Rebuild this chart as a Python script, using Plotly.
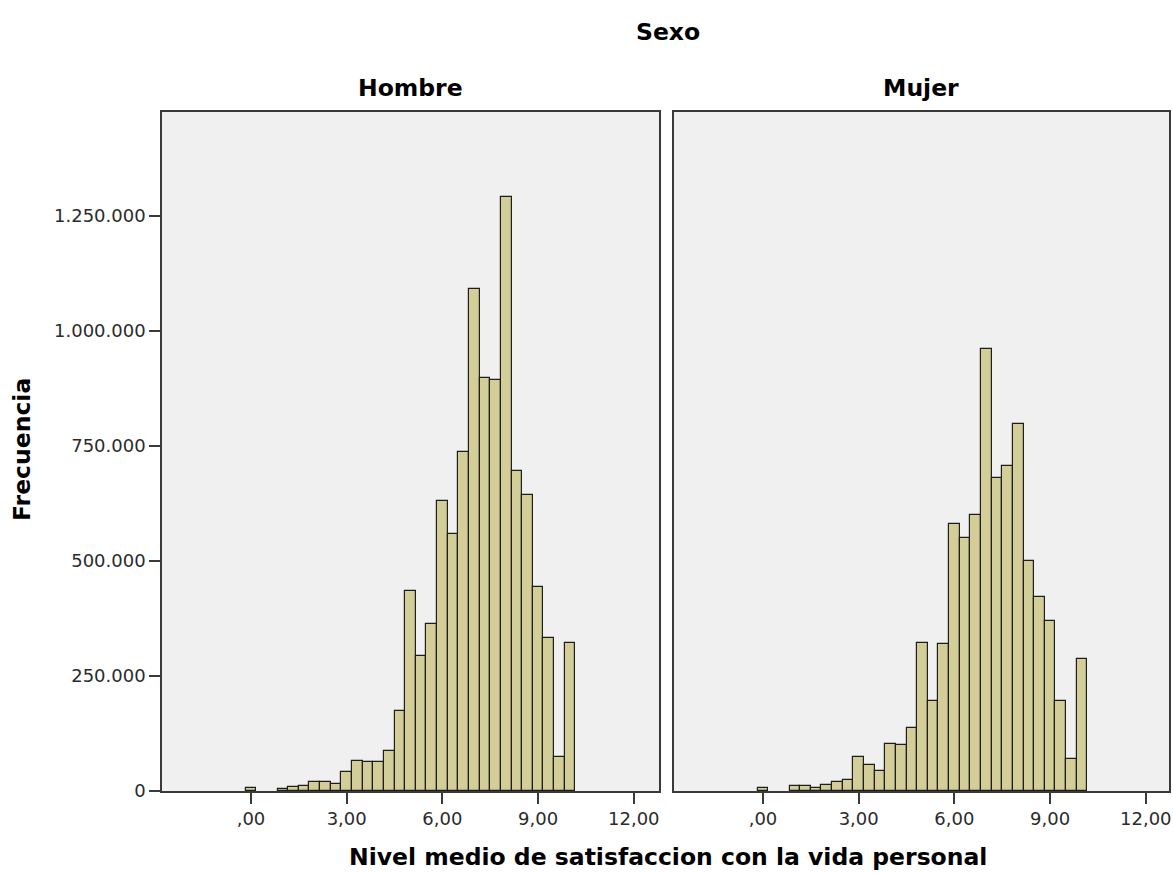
import plotly.graph_objects as go

bin_centers = [0.0, 1.0, 4/3, 5/3, 2.0, 7/3, 8/3, 3.0, 10/3, 11/3, 4.0, 13/3, 14/3, 5.0,
               16/3, 17/3, 6.0, 19/3, 20/3, 7.0, 22/3, 23/3, 8.0, 25/3, 26/3, 9.0,
               28/3, 29/3, 10.0]

hombre = [7000, 4000, 9000, 10000, 19000, 19000, 15000, 41000, 65000, 62000, 62000,
          88000, 173000, 435000, 294000, 363000, 630000, 558000, 738000, 1091000,
          898000, 893000, 1292000, 696000, 643000, 443000, 332000, 74000, 322000]

mujer = [7000, 11000, 11000, 7000, 12000, 20000, 24000, 73000, 57000, 43000, 103000,
         101000, 137000, 321000, 196000, 320000, 580000, 549000, 601000, 961000,
         681000, 707000, 797000, 500000, 421000, 370000, 196000, 70000, 286000]

x_tickvals = [0, 3, 6, 9, 12]
x_ticktext = [",00", "3,00", "6,00", "9,00", "12,00"]
y_tickvals = [0, 250000, 500000, 750000, 1000000, 1250000]
y_ticktext = ["0", "250.000", "500.000", "750.000", "1.000.000", "1.250.000"]

panel_names = ["Hombre", "Mujer"]
group_title = "Sexo"
x_title = "Nivel medio de satisfaccion con la vida personal"
y_title = "Frecuencia"

BAR_FILL = "#d3ce98"
BAR_LINE = "#1e1e1e"
FRAME = "#3a3a3a"
TICKFONT = dict(family="DejaVu Sans", size=18, color="#2b2b2b")
TITLEFONT = dict(family="DejaVu Sans", size=23.5, color="#000000", weight="bold")

W, H = 1173, 875
L, R, T, B = 162, 4, 112, 84
PW = W - L - R
PH = H - T - B
PX_PER_UNIT = 31.9

left_w, gap = 497, 15
right_w = PW - left_w - gap
x0 = -2.79

fig = go.Figure()
fig.add_trace(go.Bar(x=bin_centers, y=hombre, width=1/3, xaxis="x", yaxis="y",
                     marker=dict(color=BAR_FILL, line=dict(color=BAR_LINE, width=1.2)),
                     showlegend=False))
fig.add_trace(go.Bar(x=bin_centers, y=mujer, width=1/3, xaxis="x2", yaxis="y2",
                     marker=dict(color=BAR_FILL, line=dict(color=BAR_LINE, width=1.2)),
                     showlegend=False))

yrange = [0, 1476000]
common_x = dict(tickvals=x_tickvals, ticktext=x_ticktext, ticks="outside",
                ticklen=11, tickwidth=1.5, tickcolor=FRAME, showline=True, mirror=True,
                linecolor=FRAME, linewidth=1.5, showgrid=False, zeroline=False,
                tickfont=TICKFONT, ticklabeloverflow="allow")
fig.update_layout(
    width=W, height=H,
    margin=dict(l=L, r=R, t=T, b=B, autoexpand=False),
    paper_bgcolor="white", plot_bgcolor="#f0f0f0",
    bargap=0,
    xaxis=dict(domain=[0, left_w / PW], anchor="y",
               range=[x0, x0 + left_w / PX_PER_UNIT], **common_x),
    xaxis2=dict(domain=[(left_w + gap) / PW, 1.0], anchor="y2",
                range=[x0, x0 + right_w / PX_PER_UNIT], **common_x),
    yaxis=dict(domain=[0, 1], anchor="x", range=yrange, tickvals=y_tickvals,
               ticktext=y_ticktext, ticks="outside", ticklen=11, tickwidth=1.5,
               tickcolor=FRAME, showline=True, mirror=True, linecolor=FRAME,
               linewidth=1.5, showgrid=False, zeroline=False, tickfont=TICKFONT),
    yaxis2=dict(domain=[0, 1], anchor="x2", range=yrange, showticklabels=False,
                ticks="", showline=True, mirror=True, linecolor=FRAME, linewidth=1.5,
                showgrid=False, zeroline=False),
)


def px_x(ax):
    return (ax - L) / PW


def px_y(ay):
    return (H - B - ay) / PH


ann = [
    dict(text=group_title, x=px_x(668), y=px_y(32)),
    dict(text=panel_names[0], x=px_x(410), y=px_y(88)),
    dict(text=panel_names[1], x=px_x(921), y=px_y(88)),
    dict(text=x_title, x=px_x(668), y=px_y(857)),
]
for a in ann:
    fig.add_annotation(xref="paper", yref="paper", showarrow=False, xanchor="center",
                       yanchor="middle", font=TITLEFONT, **a)
fig.add_annotation(text=y_title, xref="paper", yref="paper", x=px_x(22),
                   y=px_y(450), xanchor="center", yanchor="middle", textangle=-90,
                   showarrow=False, font=TITLEFONT)

# remove the default 8px page margin so the figure fills the 1173x875 window exactly
fig.write_html("out.html",
               config={"displayModeBar": False},
               post_script="document.body.style.margin='0';"
                           "document.body.style.overflow='hidden';")
